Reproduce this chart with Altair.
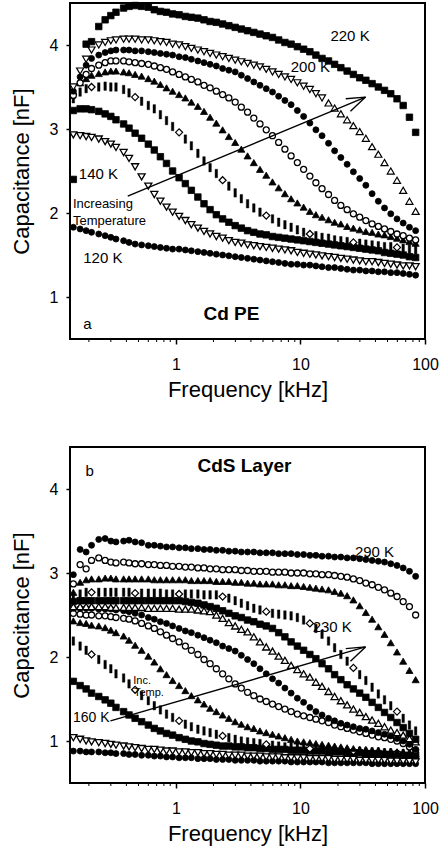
import altair as alt
import pandas as pd

# measurement frequencies (kHz)
FREQ = [0.15, 0.17, 0.19, 0.21, 0.24, 0.27, 0.30, 0.33,
        0.38, 0.42, 0.47, 0.53, 0.60, 0.67, 0.75, 0.84,
        0.94, 1.06, 1.19, 1.33, 1.50, 1.68, 1.88, 2.11,
        2.37, 2.66, 2.99, 3.35, 3.76, 4.22, 4.73, 5.31,
        5.96, 6.68, 7.50, 8.41, 9.44, 10.6, 11.9, 13.3,
        14.9, 16.8, 18.8, 21.1, 23.7, 26.6, 29.9, 33.5,
        37.6, 42.2, 47.3, 53.1, 59.6, 66.8, 75.0, 84.1]

# ---------------- panel a : Cd PE ----------------
A_120 = [1.83, 1.81, 1.79, 1.77, 1.75, 1.73, 1.71, 1.69,
         1.67, 1.65, 1.63, 1.62, 1.61, 1.60, 1.59, 1.58,
         1.57, 1.57, 1.56, 1.55, 1.54, 1.53, 1.52, 1.51,
         1.50, 1.49, 1.48, 1.47, 1.46, 1.45, 1.44, 1.43,
         1.42, 1.41, 1.40, 1.39, 1.39, 1.38, 1.38, 1.37,
         1.36, 1.35, 1.35, 1.34, 1.33, 1.32, 1.32, 1.31,
         1.31, 1.30, 1.30, 1.29, 1.29, 1.28, 1.27, 1.26]
A_140 = [2.93, 2.92, 2.91, 2.90, 2.88, 2.85, 2.82, 2.78,
         2.72, 2.65, 2.55, 2.43, 2.32, 2.22, 2.14, 2.07,
         2.01, 1.96, 1.91, 1.86, 1.82, 1.78, 1.75, 1.72,
         1.70, 1.67, 1.65, 1.64, 1.62, 1.61, 1.60, 1.59,
         1.58, 1.57, 1.56, 1.55, 1.53, 1.52, 1.51, 1.50,
         1.49, 1.48, 1.47, 1.46, 1.45, 1.44, 1.43, 1.42,
         1.42, 1.41, 1.40, 1.39, 1.38, 1.37, 1.37, 1.36]
A_150 = [3.22, 3.24, 3.24, 3.23, 3.21, 3.18, 3.15, 3.11,
         3.06, 3.01, 2.95, 2.89, 2.82, 2.75, 2.67, 2.59,
         2.50, 2.42, 2.35, 2.27, 2.19, 2.11, 2.04, 1.98,
         1.93, 1.89, 1.85, 1.82, 1.79, 1.77, 1.75, 1.74,
         1.72, 1.71, 1.70, 1.69, 1.68, 1.67, 1.66, 1.65,
         1.64, 1.63, 1.62, 1.61, 1.60, 1.59, 1.58, 1.57,
         1.56, 1.55, 1.53, 1.52, 1.51, 1.50, 1.48, 1.47]
A_160 = [3.36, 3.44, 3.48, 3.50, 3.50, 3.51, 3.50, 3.50,
         3.47, 3.43, 3.38, 3.33, 3.28, 3.24, 3.17, 3.10,
         3.03, 2.96, 2.88, 2.80, 2.71, 2.62, 2.54, 2.47,
         2.39, 2.32, 2.24, 2.17, 2.11, 2.06, 2.01, 1.97,
         1.93, 1.89, 1.86, 1.83, 1.80, 1.77, 1.75, 1.73,
         1.71, 1.70, 1.68, 1.67, 1.66, 1.65, 1.64, 1.63,
         1.62, 1.61, 1.60, 1.60, 1.59, 1.58, 1.57, 1.56]
A_170 = [3.45, 3.55, 3.60, 3.64, 3.66, 3.68, 3.69, 3.69,
         3.68, 3.67, 3.65, 3.63, 3.60, 3.57, 3.53, 3.49,
         3.45, 3.41, 3.37, 3.32, 3.27, 3.21, 3.14, 3.07,
         2.99, 2.91, 2.84, 2.76, 2.68, 2.60, 2.52, 2.45,
         2.37, 2.30, 2.23, 2.17, 2.12, 2.07, 2.02, 1.98,
         1.95, 1.92, 1.89, 1.87, 1.84, 1.82, 1.80, 1.78,
         1.77, 1.75, 1.74, 1.72, 1.70, 1.68, 1.66, 1.64]
A_180 = [3.40, 3.55, 3.65, 3.72, 3.76, 3.79, 3.81, 3.81,
         3.81, 3.80, 3.79, 3.78, 3.77, 3.75, 3.73, 3.71,
         3.68, 3.65, 3.62, 3.59, 3.56, 3.52, 3.49, 3.45,
         3.41, 3.37, 3.32, 3.26, 3.20, 3.13, 3.06, 2.99,
         2.92, 2.84, 2.76, 2.68, 2.60, 2.52, 2.44, 2.36,
         2.29, 2.22, 2.15, 2.09, 2.04, 1.99, 1.95, 1.91,
         1.87, 1.84, 1.81, 1.78, 1.75, 1.73, 1.70, 1.68]
A_190 = [3.45, 3.62, 3.76, 3.84, 3.88, 3.91, 3.93, 3.94,
         3.94, 3.94, 3.93, 3.93, 3.92, 3.91, 3.90, 3.89,
         3.88, 3.86, 3.85, 3.83, 3.81, 3.79, 3.77, 3.75,
         3.72, 3.70, 3.68, 3.64, 3.60, 3.56, 3.52, 3.48,
         3.44, 3.39, 3.34, 3.29, 3.22, 3.15, 3.07, 2.99,
         2.92, 2.83, 2.74, 2.66, 2.58, 2.49, 2.41, 2.33,
         2.23, 2.14, 2.06, 1.99, 1.93, 1.88, 1.83, 1.79]
A_200 = [3.50, 3.69, 3.83, 3.94, 4.00, 4.03, 4.05, 4.06,
         4.07, 4.07, 4.07, 4.06, 4.06, 4.05, 4.04, 4.03,
         4.01, 4.00, 3.98, 3.96, 3.94, 3.92, 3.90, 3.88,
         3.86, 3.84, 3.82, 3.80, 3.78, 3.76, 3.74, 3.71,
         3.68, 3.65, 3.62, 3.59, 3.55, 3.51, 3.47, 3.42,
         3.37, 3.31, 3.25, 3.18, 3.11, 3.04, 2.97, 2.89,
         2.79, 2.70, 2.60, 2.50, 2.39, 2.27, 2.14, 2.02]
A_220 = [None, None, 4.01, 4.04, 4.22, 4.30, 4.35, 4.39,
         4.44, 4.46, 4.47, 4.46, 4.45, 4.42, 4.40, 4.39,
         4.37, 4.36, 4.34, 4.33, 4.32, 4.30, 4.28, 4.27,
         4.25, 4.23, 4.21, 4.19, 4.17, 4.15, 4.13, 4.11,
         4.09, 4.06, 4.03, 4.01, 3.98, 3.95, 3.92, 3.88,
         3.84, 3.81, 3.77, 3.73, 3.69, 3.65, 3.61, 3.58,
         3.54, 3.50, 3.46, 3.42, 3.36, 3.28, 3.14, 2.96]
A_STRAY = [(0.15, 2.40, "square")]

# ---------------- panel b : CdS layer ----------------
B_290 = [2.98, 3.28, 3.25, 3.33, 3.40, 3.41, 3.38, 3.37,
         3.38, 3.39, 3.37, 3.36, 3.33, 3.33, 3.32, 3.31,
         3.31, 3.30, 3.30, 3.29, 3.29, 3.28, 3.28, 3.27,
         3.27, 3.26, 3.26, 3.25, 3.25, 3.25, 3.24, 3.24,
         3.24, 3.23, 3.23, 3.23, 3.22, 3.22, 3.21, 3.21,
         3.20, 3.20, 3.19, 3.19, 3.18, 3.18, 3.17, 3.16,
         3.15, 3.14, 3.13, 3.11, 3.09, 3.06, 3.02, 2.96]
B_285 = [2.87, 3.10, 3.05, 3.15, 3.18, 3.15, 3.13, 3.12,
         3.13, 3.12, 3.11, 3.11, 3.10, 3.10, 3.09, 3.09,
         3.08, 3.08, 3.07, 3.07, 3.06, 3.06, 3.05, 3.05,
         3.04, 3.04, 3.04, 3.03, 3.03, 3.02, 3.02, 3.02,
         3.01, 3.01, 3.01, 3.00, 3.00, 3.00, 2.99, 2.99,
         2.98, 2.98, 2.97, 2.96, 2.95, 2.93, 2.91, 2.88,
         2.86, 2.83, 2.80, 2.76, 2.72, 2.66, 2.60, 2.50]
B_280 = [2.77, 2.89, 2.92, 2.93, 2.93, 2.94, 2.94, 2.93,
         2.93, 2.93, 2.93, 2.93, 2.93, 2.92, 2.92, 2.92,
         2.92, 2.92, 2.92, 2.91, 2.91, 2.91, 2.91, 2.90,
         2.90, 2.90, 2.89, 2.89, 2.88, 2.88, 2.87, 2.87,
         2.87, 2.86, 2.86, 2.85, 2.85, 2.84, 2.83, 2.82,
         2.81, 2.80, 2.78, 2.76, 2.73, 2.68, 2.61, 2.53,
         2.45, 2.36, 2.27, 2.17, 2.06, 1.95, 1.84, 1.73]
B_230 = [2.70, 2.75, 2.77, 2.77, 2.77, 2.77, 2.77, 2.77,
         2.77, 2.77, 2.76, 2.76, 2.76, 2.76, 2.76, 2.75,
         2.75, 2.75, 2.75, 2.75, 2.75, 2.74, 2.74, 2.74,
         2.72, 2.70, 2.67, 2.64, 2.61, 2.58, 2.56, 2.54,
         2.52, 2.51, 2.50, 2.49, 2.47, 2.44, 2.40, 2.34,
         2.27, 2.19, 2.11, 2.03, 1.95, 1.87, 1.79, 1.72,
         1.64, 1.56, 1.49, 1.42, 1.35, 1.27, 1.19, 1.12]
B_220 = [2.66, 2.67, 2.67, 2.67, 2.67, 2.67, 2.67, 2.67,
         2.67, 2.67, 2.67, 2.67, 2.67, 2.67, 2.67, 2.67,
         2.67, 2.67, 2.66, 2.65, 2.64, 2.62, 2.60, 2.58,
         2.55, 2.52, 2.49, 2.47, 2.44, 2.42, 2.39, 2.37,
         2.34, 2.29, 2.24, 2.18, 2.13, 2.08, 2.03, 1.98,
         1.92, 1.86, 1.79, 1.73, 1.67, 1.62, 1.57, 1.52,
         1.46, 1.40, 1.34, 1.28, 1.22, 1.16, 1.09, 1.02]
B_210 = [2.60, 2.60, 2.60, 2.60, 2.60, 2.60, 2.59, 2.59,
         2.59, 2.59, 2.59, 2.59, 2.58, 2.58, 2.58, 2.58,
         2.58, 2.57, 2.57, 2.57, 2.56, 2.55, 2.54, 2.50,
         2.46, 2.41, 2.37, 2.33, 2.30, 2.24, 2.18, 2.12,
         2.07, 2.01, 1.96, 1.90, 1.85, 1.80, 1.76, 1.70,
         1.65, 1.59, 1.53, 1.48, 1.43, 1.38, 1.34, 1.29,
         1.25, 1.21, 1.17, 1.13, 1.10, 1.07, 1.03, 0.99]
B_200 = [2.58, 2.58, 2.58, 2.58, 2.57, 2.57, 2.57, 2.56,
         2.55, 2.54, 2.52, 2.50, 2.47, 2.45, 2.42, 2.40,
         2.37, 2.34, 2.31, 2.29, 2.26, 2.23, 2.20, 2.17,
         2.13, 2.10, 2.07, 2.02, 1.97, 1.92, 1.86, 1.80,
         1.74, 1.69, 1.63, 1.57, 1.51, 1.46, 1.40, 1.35,
         1.31, 1.27, 1.24, 1.21, 1.19, 1.17, 1.15, 1.14,
         1.12, 1.10, 1.08, 1.06, 1.03, 1.00, 0.96, 0.90]
B_190 = [2.52, 2.51, 2.50, 2.50, 2.49, 2.49, 2.48, 2.47,
         2.46, 2.45, 2.43, 2.40, 2.37, 2.34, 2.30, 2.26,
         2.22, 2.18, 2.13, 2.08, 2.03, 1.97, 1.92, 1.86,
         1.80, 1.74, 1.68, 1.63, 1.58, 1.54, 1.50, 1.47,
         1.44, 1.41, 1.38, 1.35, 1.32, 1.30, 1.28, 1.26,
         1.24, 1.22, 1.19, 1.17, 1.15, 1.13, 1.11, 1.09,
         1.07, 1.05, 1.04, 1.02, 1.00, 0.97, 0.93, 0.89]
B_180 = [2.43, 2.41, 2.40, 2.38, 2.37, 2.35, 2.32, 2.29,
         2.25, 2.20, 2.14, 2.08, 2.01, 1.94, 1.86, 1.79,
         1.72, 1.66, 1.60, 1.54, 1.49, 1.44, 1.39, 1.35,
         1.31, 1.27, 1.23, 1.20, 1.17, 1.15, 1.12, 1.10,
         1.08, 1.06, 1.04, 1.02, 1.00, 0.99, 0.98, 0.97,
         0.96, 0.95, 0.94, 0.93, 0.92, 0.91, 0.90, 0.90,
         0.89, 0.89, 0.88, 0.88, 0.87, 0.87, 0.86, 0.85]
B_170 = [2.19, 2.13, 2.08, 2.03, 1.97, 1.91, 1.86, 1.80,
         1.75, 1.68, 1.61, 1.54, 1.48, 1.42, 1.37, 1.32,
         1.28, 1.24, 1.20, 1.17, 1.14, 1.12, 1.10, 1.08,
         1.06, 1.04, 1.02, 1.00, 0.99, 0.98, 0.97, 0.96,
         0.95, 0.94, 0.93, 0.93, 0.92, 0.92, 0.91, 0.91,
         0.90, 0.90, 0.89, 0.89, 0.88, 0.88, 0.88, 0.87,
         0.87, 0.87, 0.86, 0.86, 0.86, 0.85, 0.85, 0.84]
B_160 = [1.71, 1.66, 1.62, 1.57, 1.53, 1.49, 1.45, 1.40,
         1.35, 1.31, 1.27, 1.23, 1.19, 1.15, 1.12, 1.09,
         1.07, 1.04, 1.02, 1.00, 0.99, 0.97, 0.96, 0.95,
         0.94, 0.94, 0.93, 0.93, 0.92, 0.92, 0.91, 0.91,
         0.90, 0.90, 0.90, 0.89, 0.89, 0.89, 0.88, 0.88,
         0.88, 0.87, 0.87, 0.87, 0.86, 0.86, 0.86, 0.85,
         0.85, 0.85, 0.84, 0.84, 0.84, 0.83, 0.83, 0.83]
B_150 = [1.04, 1.02, 1.00, 0.99, 0.98, 0.97, 0.96, 0.95,
         0.94, 0.93, 0.92, 0.91, 0.90, 0.90, 0.89, 0.88,
         0.88, 0.87, 0.87, 0.86, 0.86, 0.85, 0.85, 0.84,
         0.84, 0.83, 0.83, 0.83, 0.82, 0.82, 0.82, 0.81,
         0.81, 0.81, 0.80, 0.80, 0.80, 0.80, 0.79, 0.79,
         0.79, 0.79, 0.78, 0.78, 0.78, 0.78, 0.77, 0.77,
         0.77, 0.77, 0.77, 0.76, 0.76, 0.76, 0.76, 0.75]
B_140 = [0.88, 0.88, 0.87, 0.87, 0.87, 0.86, 0.86, 0.85,
         0.85, 0.84, 0.84, 0.83, 0.83, 0.82, 0.82, 0.81,
         0.81, 0.80, 0.80, 0.80, 0.79, 0.79, 0.79, 0.78,
         0.78, 0.78, 0.77, 0.77, 0.77, 0.77, 0.76, 0.76,
         0.76, 0.76, 0.76, 0.75, 0.75, 0.75, 0.75, 0.75,
         0.75, 0.74, 0.74, 0.74, 0.74, 0.74, 0.74, 0.74,
         0.73, 0.73, 0.73, 0.73, 0.73, 0.73, 0.73, 0.73]

# series: (values, marker kind, filled)
SERIES_A = [(A_120, "circle", True), (A_140, "triangle-down", False),
            (A_150, "square", True), (A_160, "bar", True),
            (A_170, "triangle-up", True), (A_180, "circle", False),
            (A_190, "circle", True), (A_200, "tri-switch", False),
            (A_220, "square", True)]
SERIES_B = [(B_140, "circle", True), (B_150, "triangle-down", False),
            (B_160, "square", True), (B_170, "bar", True),
            (B_180, "triangle-up", True), (B_190, "circle", False),
            (B_200, "circle", True), (B_210, "triangle-up", False),
            (B_220, "square", True), (B_230, "bar", True),
            (B_280, "triangle-up", True), (B_285, "circle", False),
            (B_290, "circle", True)]

# annotations (text, freq, capacitance, font size, bold, align)
NOTES_A = [("220 K", 25.0, 4.11, 15, False, "center"),
           ("200 K", 12.0, 3.74, 15, False, "center"),
           ("140 K", 0.166, 2.46, 15, False, "left"),
           ("Increasing", 0.149, 2.11, 13, False, "left"),
           ("Temperature", 0.149, 1.90, 13, False, "left"),
           ("120 K", 0.18, 1.46, 15, False, "left"),
           ("Cd PE", 2.79, 0.80, 19, True, "center"),
           ("a", 0.195, 0.68, 15, False, "center")]
NOTES_B = [("290 K", 39.3, 3.25, 15, False, "center"),
           ("230 K", 18.0, 2.36, 15, False, "center"),
           ("160 K", 0.149, 1.27, 14, False, "left"),
           ("Inc.", 0.454, 1.71, 11, False, "left"),
           ("Temp.", 0.46, 1.57, 11, False, "left"),
           ("b", 0.203, 4.21, 15, False, "center"),
           ("CdS Layer", 3.55, 4.27, 19, True, "center")]
# arrow segments (f, c, f2, c2)
ARROW_A = [(0.41, 2.20, 33.3, 3.38), (33.3, 3.38, 23.1, 3.36), (33.3, 3.38, 25.2, 3.21)]
ARROW_B = [(0.298, 1.24, 33.3, 2.12), (33.3, 2.12, 23.1, 2.10), (33.3, 2.12, 25.2, 1.95)]

MAJOR_TICKS = [1, 10, 100]
MINOR_TICKS = [0.2, 0.3, 0.4, 0.5, 0.6, 0.7, 0.8, 0.9,
               2, 3, 4, 5, 6, 7, 8, 9, 20, 30, 40, 50, 60, 70, 80, 90]
Y_TICKS = [1, 2, 3, 4]

W, H = 355, 336
BAR = "M-0.3,-1L0.3,-1L0.3,1L-0.3,1Z"
SIZES = {"circle": 36, "square": 42, "triangle-up": 50, "triangle-down": 50,
         "diamond": 50, BAR: 72}

xscale = alt.Scale(type="log", domain=[0.141, 100], nice=False)
yscale = alt.Scale(domain=[0.5, 4.5], nice=False, zero=False)
X = alt.X("f:Q", scale=xscale, title="Frequency [kHz]",
          axis=alt.Axis(values=MAJOR_TICKS, format="d", tickSize=5, tickWidth=1.5,
                        tickColor="black", labelPadding=12, labelFontSize=16,
                        labelColor="black", labelFlush=False, labelOverlap=False,
                        titleFontSize=22, titleFontWeight="normal", titleColor="black",
                        titlePadding=7, domain=False, grid=False))
Y = alt.Y("c:Q", scale=yscale, title="Capacitance [nF]",
          axis=alt.Axis(values=Y_TICKS, tickSize=4, tickWidth=1.5, tickColor="black",
                        labelPadding=8, labelFontSize=16, labelColor="black",
                        titleFontSize=22, titleFontWeight="normal", titleColor="black",
                        titlePadding=16, domain=False, grid=False))


def marker(kind, filled, i):
    if kind == "bar":
        if i % 7 == 3:
            return "diamond", "white", 1.2
        return BAR, "black", 0.4
    if kind == "tri-switch":
        return ("triangle-down" if i < 41 else "triangle-up"), "white", 1.2
    return kind, ("black" if filled else "white"), (0.8 if filled else 1.3)


def panel(series, stray, notes, arrow):
    rows = []
    for vals, kind, filled in series:
        for i, (f, v) in enumerate(zip(FREQ, vals)):
            if v is None:
                continue
            shp, fc, sw = marker(kind, filled, i)
            rows.append({"f": f, "c": v, "shp": shp, "fc": fc, "sw": sw, "sz": SIZES[shp]})
    for f, v, kind in stray:
        rows.append({"f": f, "c": v, "shp": kind, "fc": "black", "sw": 0.8, "sz": SIZES[kind]})
    df = pd.DataFrame(rows)
    pts = alt.Chart(df).mark_point(filled=True, stroke="black", opacity=1).encode(
        x=X, y=Y,
        shape=alt.Shape("shp:N", scale=None),
        fill=alt.Fill("fc:N", scale=None),
        strokeWidth=alt.StrokeWidth("sw:Q", scale=None),
        size=alt.Size("sz:Q", scale=None))
    minor = alt.Chart(pd.DataFrame({"f": MINOR_TICKS})).mark_rule(
        color="black", strokeWidth=1).encode(x=X, y=alt.value(H), y2=alt.value(H + 3))
    adf = pd.DataFrame(arrow, columns=["f", "c", "f2", "c2"])
    arr = alt.Chart(adf).mark_rule(color="black", strokeWidth=1.4).encode(
        x=X, y=Y, x2="f2:Q", y2="c2:Q")
    layers = [pts, minor, arr]
    for t, f, c, fs, bold, align in notes:
        layers.append(alt.Chart(pd.DataFrame({"f": [f], "c": [c], "t": [t]})).mark_text(
            fontSize=fs, fontWeight="bold" if bold else "normal", align=align,
            baseline="middle", color="black").encode(x=X, y=Y, text="t:N"))
    return alt.layer(*layers).properties(width=W, height=H)


chart = alt.vconcat(
    panel(SERIES_A, A_STRAY, NOTES_A, ARROW_A),
    panel(SERIES_B, [], NOTES_B, ARROW_B),
    spacing=45,
).properties(
    padding={"left": 9, "top": -1, "right": 0, "bottom": 3}
).configure(font="Liberation Sans").configure_view(stroke="black", strokeWidth=2)

chart.save("out.html", embed_options={"renderer": "svg", "actions": False})
